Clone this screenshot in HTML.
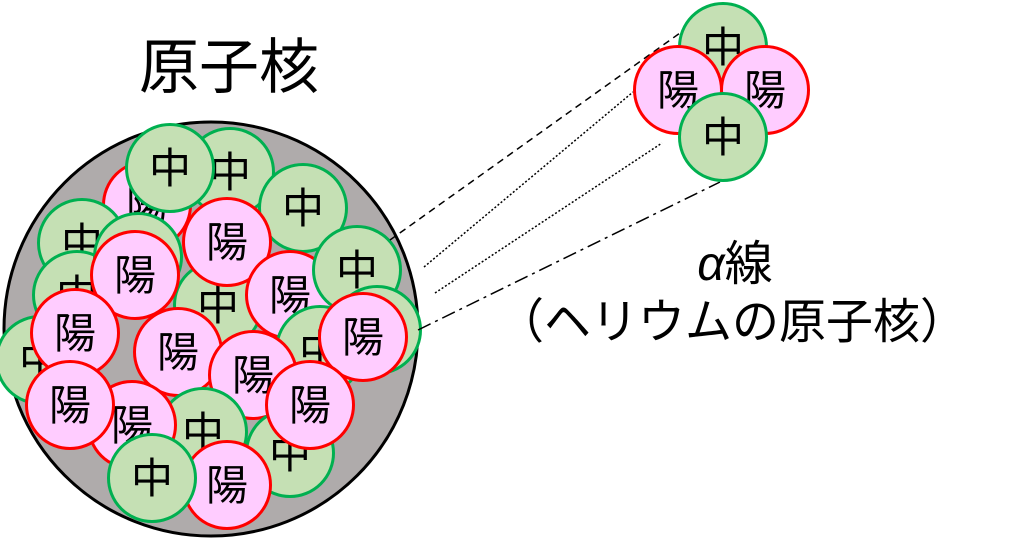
<!DOCTYPE html>
<html><head><meta charset="utf-8"><style>
html,body{margin:0;padding:0;background:#fff;}
svg{display:block;}
text{font-family:"Liberation Sans","Noto Sans CJK JP",sans-serif;}
</style></head><body>
<svg width="1024" height="539" viewBox="0 0 1024 539" xmlns="http://www.w3.org/2000/svg">
<defs>
<g id="g"><circle r="43.5" fill="#c5e0b4" stroke="#00b050" stroke-width="3"/><text y="15" font-size="42" text-anchor="middle" fill="#000">中</text></g>
<g id="p"><circle r="43.5" fill="#ffccff" stroke="#ff0000" stroke-width="3"/><text y="15" font-size="42" text-anchor="middle" fill="#000">陽</text></g>
</defs>
<text x="229" y="88" font-size="60" text-anchor="middle">原子核</text>
<circle cx="211" cy="329" r="207" fill="#afabab" stroke="#000" stroke-width="3"/>
<use href="#g" x="230" y="172"/>
<use href="#p" x="147" y="205"/>
<use href="#g" x="170" y="168"/>
<use href="#g" x="82" y="243"/>
<use href="#g" x="77" y="295"/>
<use href="#g" x="138" y="257"/>
<use href="#g" x="303" y="208"/>
<use href="#g" x="218" y="305"/>
<use href="#p" x="227" y="242"/>
<use href="#p" x="290" y="295"/>
<use href="#g" x="357" y="270"/>
<use href="#g" x="377" y="330"/>
<use href="#g" x="320" y="350"/>
<use href="#p" x="135" y="275"/>
<use href="#g" x="40" y="360"/>
<use href="#p" x="75" y="333"/>
<use href="#p" x="178" y="352"/>
<use href="#p" x="253" y="375"/>
<use href="#p" x="363" y="337"/>
<use href="#g" x="203" y="432"/>
<use href="#g" x="290" y="453"/>
<use href="#p" x="132" y="425"/>
<use href="#p" x="70" y="405"/>
<use href="#p" x="310" y="405"/>
<use href="#p" x="227" y="485"/>
<use href="#g" x="152" y="478"/>
<g stroke="#000" stroke-width="1.5" fill="none">
<line x1="390" y1="240" x2="680" y2="33" stroke-dasharray="7,5"/>
<line x1="424" y1="267" x2="633" y2="92" stroke-dasharray="2,2"/>
<line x1="435" y1="293" x2="662" y2="143" stroke-dasharray="2,2"/>
<line x1="418" y1="330" x2="720" y2="182" stroke-dasharray="14,5,3,5"/>
</g>
<use href="#g" x="723" y="47"/>
<use href="#p" x="678" y="90"/>
<use href="#p" x="765" y="90"/>
<use href="#g" x="723" y="137"/>
<text x="735" y="280" font-size="48" text-anchor="middle"><tspan font-style="italic">α</tspan>線</text>
<text x="732" y="338" font-size="48" text-anchor="middle" textLength="470" lengthAdjust="spacingAndGlyphs">（ヘリウムの原子核）</text>
</svg>
</body></html>
